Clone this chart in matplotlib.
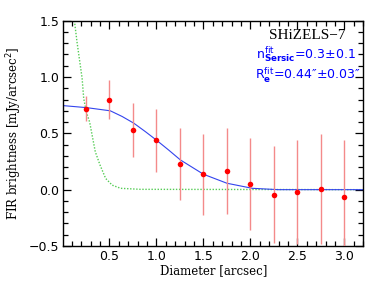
import matplotlib
matplotlib.use("Agg")
import matplotlib.pyplot as plt
from matplotlib.ticker import MultipleLocator

# Measured points (diameter in arcsec, FIR brightness in mJy/arcsec^2)
diam = [0.25, 0.5, 0.75, 1.0, 1.25, 1.5, 1.75, 2.0, 2.25, 2.5, 2.75, 3.0]
flux = [0.72, 0.80, 0.53, 0.44, 0.23, 0.137, 0.166, 0.048, -0.044, -0.02, 0.006, -0.065]
flux_err = [0.11, 0.17, 0.24, 0.28, 0.32, 0.36, 0.38, 0.41, 0.43, 0.46, 0.49, 0.505]

# Sersic fit curve
fit_d = [0.01, 0.26, 0.51, 0.635, 0.76, 0.883, 1.0, 1.13, 1.255, 1.5, 1.75, 2.02, 2.3, 3.2]
fit_i = [0.746, 0.728, 0.70, 0.65, 0.59, 0.515, 0.44, 0.352, 0.264, 0.137, 0.057, 0.012, 0.0, 0.0]

# beam / PSF profile (green dotted)
psf_d = [0.128, 0.156, 0.19, 0.21, 0.227, 0.255, 0.29, 0.316, 0.35, 0.40, 0.46, 0.53, 0.62, 0.83, 3.2]
psf_i = [1.5, 1.31, 1.107, 0.99, 0.81, 0.69, 0.60, 0.486, 0.337, 0.22, 0.10, 0.04, 0.012, 0.003, 0.0]

fig = plt.figure(figsize=(3.82, 2.87), dpi=100)
ax = fig.add_axes([0.1657, 0.1429, 0.7853, 0.785])

ax.plot(psf_d, psf_i, color="#55cc55", ls=(0, (1, 1.2)), lw=1.0, zorder=1)
ax.plot(fit_d, fit_i, color="#3344ee", lw=0.8, zorder=2)
ax.errorbar(diam, flux, yerr=flux_err, fmt="none", ecolor="#f48a8a", elinewidth=1.0, zorder=3)
ax.plot(diam, flux, "o", color="red", ms=4, mec="none", zorder=4)

ax.set_xlim(0.01, 3.2)
ax.set_ylim(-0.5, 1.5)
ax.xaxis.set_major_locator(MultipleLocator(0.5))
ax.xaxis.set_minor_locator(MultipleLocator(0.1))
ax.yaxis.set_major_locator(MultipleLocator(0.5))
ax.yaxis.set_minor_locator(MultipleLocator(0.1))
ax.tick_params(which="both", direction="in", top=True, right=True, color="black", width=0.9)
ax.tick_params(which="major", length=6, labelsize=9, pad=3)
ax.tick_params(which="minor", length=3.5)
ax.set_xticks([0.5, 1.0, 1.5, 2.0, 2.5, 3.0])
for s in ax.spines.values():
    s.set_linewidth(1.0)

ax.set_xlabel("Diameter [arcsec]", family="DejaVu Serif", fontsize=8.5, labelpad=1)
ax.set_ylabel("FIR brightness [mJy/arcsec$^2$]", family="DejaVu Serif", fontsize=8.5, labelpad=3)

ax.text(0.94, 0.965, "SHiZELS\u22127", transform=ax.transAxes, ha="right", va="top",
        family="Liberation Serif", fontsize=11)
ax.text(0.975, 0.895, r"n$^{\rm fit}_{\bf Sersic}$=0.3$\pm$0.1", transform=ax.transAxes,
        ha="right", va="top", color="blue", fontsize=9)
ax.text(0.99, 0.80, "R$^{\\rm fit}_{\\bf e}$=0.44\u2033$\\pm$0.03\u2033", transform=ax.transAxes,
        ha="right", va="top", color="blue", fontsize=9)

fig.savefig("out.png", dpi=100)
